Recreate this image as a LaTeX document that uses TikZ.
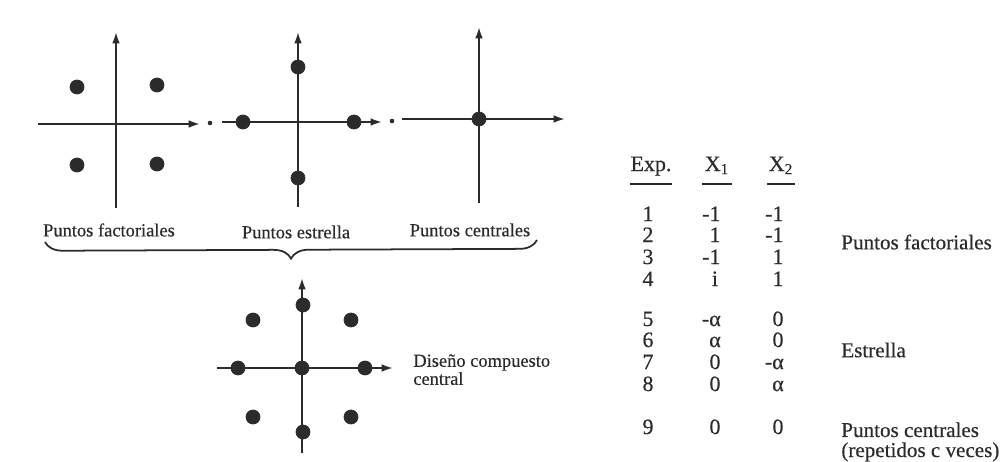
\documentclass[tikz,border=0pt]{standalone}
\usepackage{fontspec}
\setmainfont{Liberation Serif}[FakeBold=0.4]
\usetikzlibrary{arrows.meta,decorations.pathreplacing}
\definecolor{ink}{HTML}{2B2B2B}
\begin{document}
\begin{tikzpicture}[x=0.02cm,y=-0.02cm,
  axis/.style={draw=ink, line width=1.1pt, -{Latex[length=6.5pt,width=4.4pt]}},
  dot/.style={circle, fill=ink, draw=ink, inner sep=0pt, minimum size=8pt},
  sdot/.style={circle, fill=ink, inner sep=0pt, minimum size=2.6pt},
  lab/.style={text=ink, font=\fontsize{10.5}{10.5}\selectfont, inner sep=0pt},
  tab/.style={text=ink, font=\fontsize{12.5}{12.5}\selectfont, inner sep=0pt, anchor=mid},
  rlab/.style={text=ink, font=\fontsize{12}{11.4}\selectfont, inner sep=0pt, anchor=west, align=left},
  uline/.style={draw=ink, line width=1.1pt}]
\useasboundingbox (0,0) rectangle (1007,462);

% ---------- panel 1: factorial points ----------
\coordinate (a1l) at (38,124);  \coordinate (a1r) at (200,124);
\coordinate (a1b) at (116,208); \coordinate (a1t) at (116,32);
\draw[axis] (a1l) -- (a1r);
\draw[axis] (a1b) -- (a1t);
\node[sdot] (g1) at (210,123) {};
\node[dot] (f1) at (77,87) {};
\node[dot] (f2) at (157,85) {};
\node[dot] (f3) at (77,165) {};
\node[dot] (f4) at (157,164) {};

% ---------- panel 2: star points ----------
\coordinate (a2l) at (222,122); \coordinate (a2r) at (382,122);
\coordinate (a2b) at (298,207); \coordinate (a2t) at (298,32);
\draw[axis] (a2l) -- (a2r);
\draw[axis] (a2b) -- (a2t);
\node[sdot] (g2) at (392,121) {};
\node[dot] (s1) at (243,122) {};
\node[dot] (s2) at (354,122) {};
\node[dot] (s3) at (298,67) {};
\node[dot] (s4) at (298,178) {};

% ---------- panel 3: centre point ----------
\coordinate (a3l) at (402,119); \coordinate (a3r) at (565,119);
\coordinate (a3b) at (479,203); \coordinate (a3t) at (479,27);
\draw[axis] (a3l) -- (a3r);
\draw[axis] (a3b) -- (a3t);
\node[dot] (c0) at (479,119) {};

% ---------- labels and brace ----------
\node[lab] (l1) at (109,230) {Puntos factoriales};
\node[lab] (l2) at (296,232) {Puntos estrella};
\node[lab] (l3) at (470,230) {Puntos centrales};
\coordinate (br1) at (45,242); \coordinate (br2) at (537,240);
\draw[draw=ink, line width=1pt, decorate, decoration={brace, mirror, amplitude=10pt}] (br1) -- (br2);

% ---------- central composite design ----------
\coordinate (a4l) at (217,368); \coordinate (a4r) at (393,368);
\coordinate (a4b) at (302,453); \coordinate (a4t) at (302,278);
\draw[axis] (a4l) -- (a4r);
\draw[axis] (a4b) -- (a4t);
\node[dot] (d0) at (302,368) {};
\node[dot] (d1) at (238,368) {};
\node[dot] (d2) at (365,368) {};
\node[dot] (d3) at (303,305) {};
\node[dot] (d4) at (303,432) {};
\node[dot] (d5) at (253,320) {};
\node[dot] (d6) at (351,320) {};
\node[dot] (d7) at (253,417) {};
\node[dot] (d8) at (351,417) {};
\node[lab, anchor=north west, align=left, font=\fontsize{10.5}{10.3}\selectfont] (ccd) at (413,354) {Diseño compuesto\\central};

% ---------- table ----------
\node[tab] (hexp) at (651,167) {Exp.};
\node[tab] (hx1) at (717,167) {X\textsubscript{1}};
\node[tab] (hx2) at (781,167) {X\textsubscript{2}};
\coordinate (u1a) at (630,184); \coordinate (u1b) at (672,184);
\coordinate (u2a) at (702,184); \coordinate (u2b) at (732,184);
\coordinate (u3a) at (767,184); \coordinate (u3b) at (795,184);
\draw[uline] (u1a) -- (u1b);
\draw[uline] (u2a) -- (u2b);
\draw[uline] (u3a) -- (u3b);

\foreach \n/\y/\va/\vb in {1/217/\llap{-}1/\llap{-}1, 2/238/1/\llap{-}1, 3/260/\llap{-}1/1, 4/282/i/1,
  5/322/\llap{-}α/0, 6/343/α/0, 7/365/0/\llap{-}α, 8/387/0/α, 9/430/0/0}{
  \node[tab] (e\n) at (648,\y) {\n};
  \node[tab] (xa\n) at (715,\y) {\va};
  \node[tab] (xb\n) at (778,\y) {\vb};
}

\node[rlab] (rf) at (841,242) {Puntos factoriales};
\node[rlab] (re) at (841,350) {Estrella};
\node[rlab, anchor=north west] (rc) at (841,422) {Puntos centrales\\(repetidos c veces)};
\end{tikzpicture}
\end{document}
